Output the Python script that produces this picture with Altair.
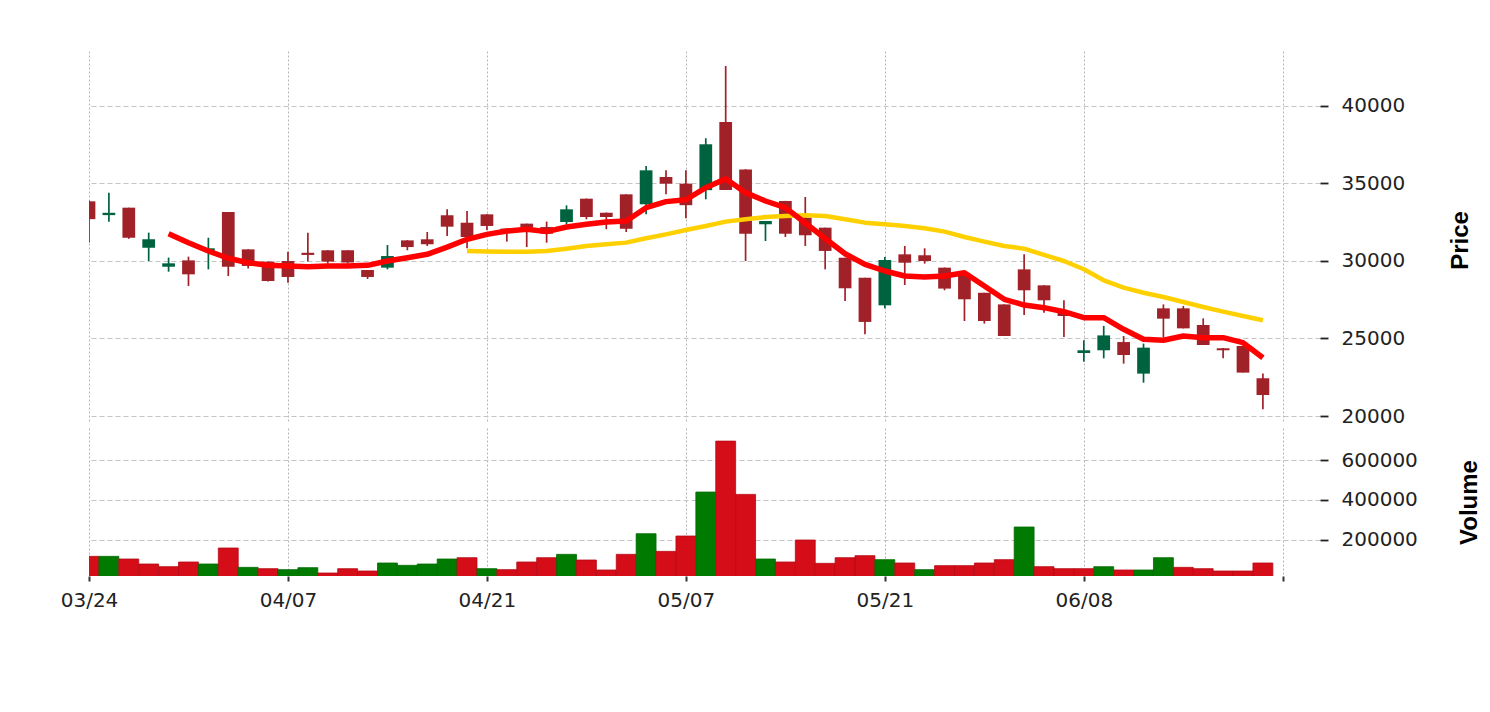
import altair as alt
import pandas as pd
import numpy as np

# ---- data ----
opens = [33850, 32960, 33440, 30860, 29630, 30040, 30650, 33160, 30750, 29960,
         30000, 30530, 30690, 30690, 29420, 29570, 31330, 31400, 32950, 32470,
         33010, 32090, 32410, 32190, 32515, 34020, 33120, 34300, 33660, 35420,
         34990, 34570, 38970, 35910, 32370, 33870, 32800, 32150, 30210, 28920,
         27140, 30430, 30370, 29570, 29140, 27950, 27200, 29460, 28430, 26700,
         24065, 24240, 24770, 22735, 26945, 26945, 25870, 24370, 24520, 22435]
highs = [33900, 34410, 33440, 31830, 30220, 30280, 31500, 33160, 30760, 29960,
         30600, 31830, 30700, 30690, 29420, 31030, 31340, 31870, 33340, 33220,
         33010, 32100, 32410, 32540, 33590, 34030, 33130, 34300, 36130, 35850,
         35850, 37920, 42580, 35920, 32580, 33880, 34130, 32150, 30210, 28920,
         30260, 30970, 30820, 29580, 29150, 27950, 27200, 30430, 28430, 27470,
         24885, 25810, 25160, 24670, 27200, 27100, 26300, 24380, 24520, 22735]
lows = [31200, 32535, 31430, 30000, 29310, 28390, 29460, 29030, 29520, 28680,
        28600, 29960, 29830, 29830, 28840, 29460, 30690, 30970, 31610, 30820,
        31980, 31250, 30900, 31180, 32370, 32690, 32050, 31870, 33010, 34300,
        32750, 33980, 34580, 30000, 31290, 31550, 30970, 29460, 27420, 25270,
        26950, 28450, 29830, 28110, 26130, 25960, 25160, 26515, 26660, 25100,
        23505, 23720, 23375, 22150, 25055, 25650, 24580, 23720, 22800, 20430]
closes = [32700, 33110, 31500, 31400, 29850, 29140, 30820, 29630, 29680, 28710,
          28970, 30390, 29960, 29900, 28970, 30320, 30900, 31080, 32215, 31550,
          32260, 31900, 32150, 31760, 33335, 32840, 32840, 32080, 35850, 34990,
          33600, 37530, 34580, 31760, 32580, 31760, 31660, 30650, 28240, 26070,
          30065, 29890, 30000, 28220, 27530, 26130, 25160, 28110, 27465, 26450,
          24240, 25200, 23935, 24410, 26280, 25655, 24580, 24240, 22800, 21355]
volumes = [116300, 116300, 102900, 77800, 64400, 87900, 77800, 158200, 61100, 54400,
           49400, 59400, 32600, 54400, 42700, 82900, 71100, 77800, 102900, 109600,
           54400, 49400, 87900, 109600, 126400, 97900, 47700, 126400, 230200, 141400,
           218500, 439400, 695500, 427700, 102900, 87900, 198400, 81200, 109600, 119700,
           99600, 82900, 49400, 69500, 69500, 82900, 99600, 263700, 64400, 54400,
           54400, 64400, 47700, 47700, 109600, 61100, 54400, 42700, 42700, 82900]
volume_up = [0, 1, 0, 0, 0, 0, 1, 0, 1, 0,
             1, 1, 0, 0, 0, 1, 1, 1, 1, 0,
             1, 0, 0, 0, 1, 0, 0, 0, 1, 0,
             0, 1, 0, 0, 1, 0, 0, 0, 0, 0,
             1, 0, 1, 0, 0, 0, 0, 1, 0, 0,
             0, 1, 0, 1, 1, 0, 0, 0, 0, 0]
ma5_start = 4
ma5 = [31760, 31180, 30645, 30175, 29890, 29720, 29680, 29630, 29680, 29680,
       29720, 30000, 30215, 30430, 30900, 31400, 31720, 31935, 32045, 31895,
       32195, 32370, 32515, 32580, 33440, 33830, 33950, 34730, 35300, 34410,
       33870, 33440, 32450, 31450, 30470, 29785, 29355, 29030, 28970, 29030,
       29245, 28390, 27530, 27160, 26990, 26730, 26345, 26345, 25595, 24950,
       24885, 25160, 25055, 25055, 24730, 23760]
ma20_start = 19
ma20 = [30645, 30620, 30600, 30600, 30645, 30795, 30970, 31075, 31185, 31465,
        31720, 32000, 32260, 32540, 32690, 32840, 32900, 32950, 32900, 32690,
        32475, 32370, 32260, 32110, 31895, 31550, 31250, 30970, 30795, 30390,
        30000, 29465, 28755, 28280, 27955, 27680, 27355, 27030, 26730, 26450,
        26175]
tick_pos = [0, 10, 20, 30, 40, 50, 60]
tick_labels = ["03/24", "04/07", "04/21", "05/07", "05/21", "06/08", ""]
price_ticks = [20000, 25000, 30000, 35000, 40000]
volume_ticks = [200000, 400000, 600000]

# ---- tables ----
n = len(opens)
idx = np.arange(n)
candles = pd.DataFrame({"i": idx, "open": opens, "high": highs, "low": lows, "close": closes})
candles["dir"] = np.where(candles["close"] >= candles["open"], "up", "down")
candles["lo"] = candles["i"] - 0.32
candles["hi"] = candles["i"] + 0.32

vol = pd.DataFrame({"i": idx, "vol": volumes,
                    "dir": ["up" if u else "down" for u in volume_up]})
vol["lo"] = vol["i"] - 0.5
vol["hi"] = vol["i"] + 0.5
vol["base"] = 0

ma5_df = pd.DataFrame({"i": np.arange(ma5_start, ma5_start + len(ma5)), "ma": ma5})
ma20_df = pd.DataFrame({"i": np.arange(ma20_start, ma20_start + len(ma20)), "ma": ma20})

# ---- scales & axes ----
W = 1231
xs = alt.Scale(domain=[0, 61.87], nice=False, zero=False)
ys_price = alt.Scale(domain=[19613, 43548], nice=False, zero=False)
ys_vol = alt.Scale(domain=[17600, 761300], nice=False, zero=False)

candle_color = alt.Color("dir:N", scale=alt.Scale(domain=["up", "down"], range=["#006340", "#a02128"]), legend=None)
vol_color = alt.Color("dir:N", scale=alt.Scale(domain=["up", "down"], range=["#007a00", "#d50d18"]), legend=None)
vol_stroke = alt.Stroke("dir:N", scale=alt.Scale(domain=["up", "down"], range=["#006a00", "#b50a14"]), legend=None)

label_expr = " : ".join(f"datum.value == {p} ? '{l}'" for p, l in zip(tick_pos, tick_labels)) + " : ''"

GRIDX = dict(grid=True, gridColor="#b4b4b4", gridDash=[2, 2], gridWidth=1)
GRIDY = dict(grid=True, gridColor="#c4c4c4", gridDash=[5, 3], gridWidth=1)

x_axis_price = alt.Axis(values=tick_pos, labels=False, ticks=False, domain=False, title=None, **GRIDX)
x_axis_vol = alt.Axis(values=tick_pos, labelExpr=label_expr, domain=False, title=None,
                      ticks=True, tickSize=5, tickWidth=2, tickColor="#333333",
                      labelFont="DejaVu Sans", labelFontSize=20, labelColor="#222222",
                      labelPadding=9, labelFlush=False, labelOverlap=False, labelAngle=0, **GRIDX)

def y_axis(values, title, tx, ty):
    return alt.Axis(orient="right", values=values, format="d", domain=False,
                    tickSize=8, tickWidth=1.8, tickColor="#222222",
                    labelFont="DejaVu Sans", labelFontSize=20, labelColor="#222222",
                    labelPadding=13, labelFlush=False, labelOverlap=False,
                    title=title, titleAngle=270, titleX=tx, titleY=ty,
                    titleAlign="center", titleBaseline="middle",
                    titleFont="Liberation Sans", titleFontSize=24, titleFontWeight="bold",
                    titleColor="#000000", **GRIDY)

y_axis_price = y_axis(price_ticks, "Price", 140, 189)
y_axis_vol = y_axis(volume_ticks, "Volume", 149, 74)

# ---- price panel ----
wicks = alt.Chart(candles).mark_rule(strokeWidth=1.7, clip=True).encode(
    x=alt.X("i:Q", scale=xs, axis=x_axis_price),
    y=alt.Y("low:Q", scale=ys_price, axis=y_axis_price),
    y2="high:Q",
    color=candle_color,
)
bodies = alt.Chart(candles).mark_rect(clip=True).encode(
    x=alt.X("lo:Q", scale=xs, axis=x_axis_price),
    x2="hi:Q",
    y=alt.Y("open:Q", scale=ys_price, axis=y_axis_price),
    y2="close:Q",
    color=candle_color,
)
line20 = alt.Chart(ma20_df).mark_line(color="#ffd000", strokeWidth=4.5, clip=True, strokeJoin="round").encode(
    x=alt.X("i:Q", scale=xs, axis=x_axis_price),
    y=alt.Y("ma:Q", scale=ys_price, axis=y_axis_price),
)
line5 = alt.Chart(ma5_df).mark_line(color="#ff0000", strokeWidth=5.5, clip=True, strokeJoin="round").encode(
    x=alt.X("i:Q", scale=xs, axis=x_axis_price),
    y=alt.Y("ma:Q", scale=ys_price, axis=y_axis_price),
)
price = alt.layer(wicks, bodies, line20, line5).properties(width=W, height=371)

# ---- volume panel ----
vbars = alt.Chart(vol).mark_rect(clip=True, strokeWidth=0.8).encode(
    x=alt.X("lo:Q", scale=xs, axis=x_axis_vol),
    x2="hi:Q",
    y=alt.Y("vol:Q", scale=ys_vol, axis=y_axis_vol),
    y2="base:Q",
    color=vol_color,
    stroke=vol_stroke,
)
volume = vbars.properties(width=W, height=148)

chart = alt.vconcat(price, volume, spacing=6, bounds="flush").resolve_scale(
    y="independent", color="independent", x="independent"
).properties(
    padding={"left": 52, "top": 43, "right": 0, "bottom": 5},
    background="white",
).configure_view(stroke=None)

chart.save("out.html", embed_options={"renderer": "svg", "actions": False})
